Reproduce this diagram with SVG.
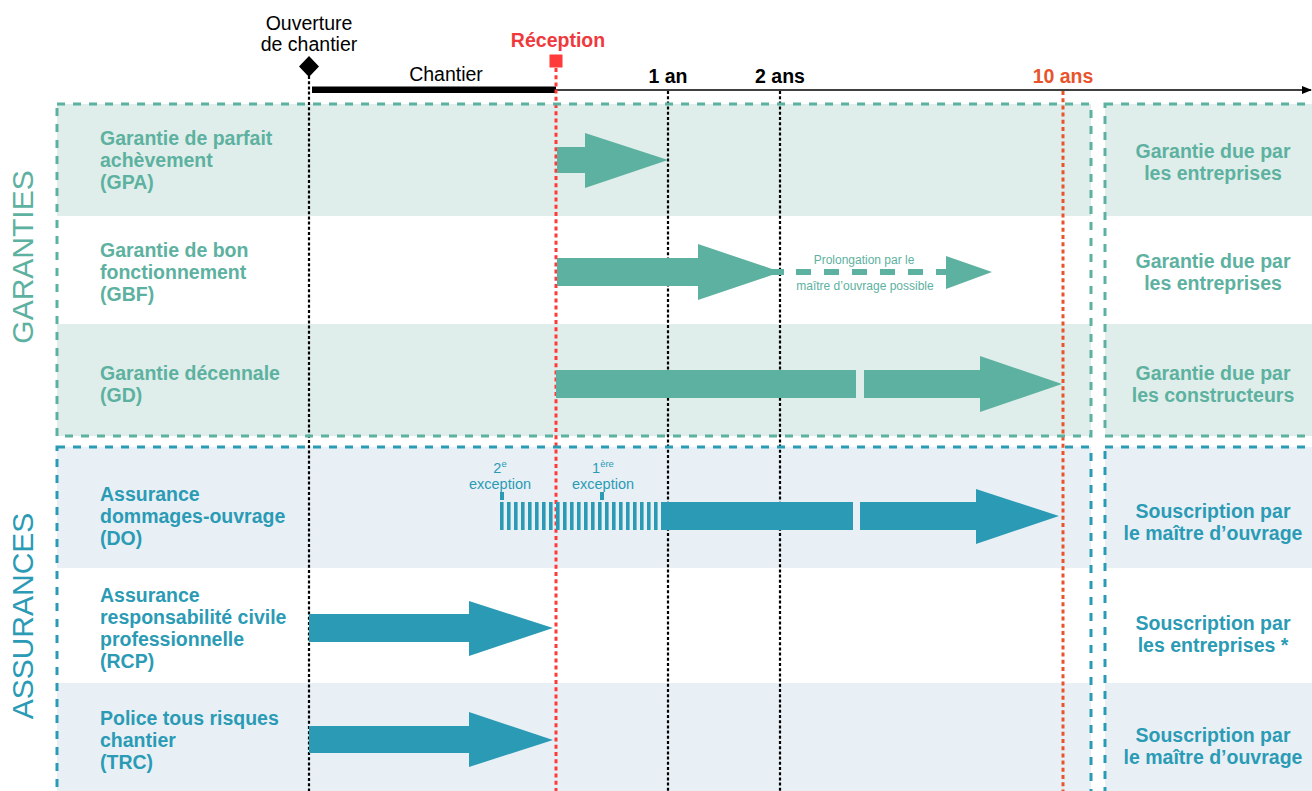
<svg xmlns="http://www.w3.org/2000/svg" width="1312" height="791" viewBox="0 0 1312 791">
<style>
text{font-family:"Liberation Sans",Arial,sans-serif}
.lbl{font-size:19.5px;font-weight:bold}
.g{fill:#5db1a0}
.a{fill:#2b9bb5}
.bgG{fill:#dfeeea}
.bgA{fill:#e8f0f6}
.boxG{fill:none;stroke:#5db1a0;stroke-width:3;stroke-dasharray:8 8}
.boxA{fill:none;stroke:#2b9bb5;stroke-width:3;stroke-dasharray:8 8}
.vk{stroke:#000;stroke-width:2.2;stroke-dasharray:3 2.2;fill:none}
.vr{stroke:#ff3a3a;stroke-width:3;stroke-dasharray:4 3.2;fill:none}
.vo{stroke:#e8542c;stroke-width:3;stroke-dasharray:4 3.2;fill:none}
.mid{text-anchor:middle}
.side{font-size:30px}
</style>
<defs>
<marker id="axh" markerWidth="10" markerHeight="8" refX="9" refY="4" orient="auto" markerUnits="userSpaceOnUse">
<path d="M0,0 L10,4 L0,8 z" fill="#000"/>
</marker>
<pattern id="stripes" x="500" y="0" width="7" height="10" patternUnits="userSpaceOnUse">
<rect x="0" y="0" width="3.6" height="10" fill="#2b9bb5"/>
</pattern>
</defs>

<!-- backgrounds -->
<g id="backgrounds">
<rect class="bgG" x="57" y="104" width="1034" height="112"/>
<rect class="bgG" x="57" y="324" width="1034" height="112"/>
<rect class="bgA" x="57" y="447" width="1034" height="121"/>
<rect class="bgA" x="57" y="683" width="1034" height="110"/>
<rect class="bgG" x="1105" y="104" width="210" height="112"/>
<rect class="bgG" x="1105" y="324" width="210" height="112"/>
<rect class="bgA" x="1105" y="447" width="210" height="121"/>
<rect class="bgA" x="1105" y="683" width="210" height="110"/>
</g>

<!-- timeline -->
<g id="timeline">
<line x1="555" y1="90" x2="1311" y2="90" stroke="#000" stroke-width="1.5" marker-end="url(#axh)"/>
<rect x="312" y="86.5" width="244" height="6.5" fill="#000"/>
<line class="vk" x1="309" y1="76" x2="309" y2="791"/>
<line class="vr" x1="556" y1="68" x2="556" y2="791"/>
<line class="vk" x1="668" y1="91" x2="668" y2="791"/>
<line class="vk" x1="780" y1="91" x2="780" y2="791"/>
<line class="vo" x1="1063" y1="91" x2="1063" y2="791"/>
<path d="M309,56 L319,66.5 L309,77 L299,66.5 z" fill="#000"/>
<rect x="549.5" y="54.5" width="13" height="13" fill="#ff3a3a"/>
<text class="mid" x="309" y="30" font-size="19.5">Ouverture</text>
<text class="mid" x="309" y="51" font-size="19.5">de chantier</text>
<text class="mid" x="446" y="81" font-size="19.5">Chantier</text>
<text class="mid lbl" x="558" y="47" fill="#f0393c">Réception</text>
<text class="mid lbl" x="668" y="83" fill="#000">1 an</text>
<text class="mid lbl" x="780" y="83" fill="#000">2 ans</text>
<text class="mid lbl" x="1063" y="83" fill="#e8542c">10 ans</text>
</g>

<!-- section boxes -->
<g id="garanties">
<rect class="boxG" x="57" y="104" width="1034" height="332"/>
<rect class="boxG" x="1105" y="104" width="230" height="332"/>
<text class="side mid g" transform="translate(33,257) rotate(-90)">GARANTIES</text>
</g>
<g id="assurances">
<rect class="boxA" x="57" y="447" width="1034" height="360"/>
<rect class="boxA" x="1105" y="447" width="230" height="360"/>
<text class="side mid a" transform="translate(33,616) rotate(-90)">ASSURANCES</text>
</g>

<!-- rows -->
<g id="gpa">
<text class="lbl g" x="100" y="145">Garantie de parfait</text>
<text class="lbl g" x="100" y="167">achèvement</text>
<text class="lbl g" x="100" y="189">(GPA)</text>
<text class="lbl g mid" x="1213" y="158">Garantie due par</text>
<text class="lbl g mid" x="1213" y="180">les entreprises</text>
</g>
<g id="gbf">
<text class="lbl g" x="100" y="257">Garantie de bon</text>
<text class="lbl g" x="100" y="279">fonctionnement</text>
<text class="lbl g" x="100" y="301">(GBF)</text>
<text class="lbl g mid" x="1213" y="268">Garantie due par</text>
<text class="lbl g mid" x="1213" y="290">les entreprises</text>
</g>
<g id="gd">
<text class="lbl g" x="100" y="380">Garantie décennale</text>
<text class="lbl g" x="100" y="402">(GD)</text>
<text class="lbl g mid" x="1213" y="380">Garantie due par</text>
<text class="lbl g mid" x="1213" y="402">les constructeurs</text>
</g>
<g id="do">
<text class="lbl a" x="100" y="501">Assurance</text>
<text class="lbl a" x="100" y="523">dommages-ouvrage</text>
<text class="lbl a" x="100" y="545">(DO)</text>
<text class="lbl a mid" x="1213" y="518">Souscription par</text>
<text class="lbl a mid" x="1213" y="540">le maître d’ouvrage</text>
</g>
<g id="rcp">
<text class="lbl a" x="100" y="602">Assurance</text>
<text class="lbl a" x="100" y="624">responsabilité civile</text>
<text class="lbl a" x="100" y="646">professionnelle</text>
<text class="lbl a" x="100" y="668">(RCP)</text>
<text class="lbl a mid" x="1213" y="630">Souscription par</text>
<text class="lbl a mid" x="1213" y="652">les entreprises *</text>
</g>
<g id="trc">
<text class="lbl a" x="100" y="725">Police tous risques</text>
<text class="lbl a" x="100" y="747">chantier</text>
<text class="lbl a" x="100" y="769">(TRC)</text>
<text class="lbl a mid" x="1213" y="742">Souscription par</text>
<text class="lbl a mid" x="1213" y="764">le maître d’ouvrage</text>
</g>

<!-- connectors (arrows) -->
<g id="connectors">
<path class="g" d="M557,147 L585,147 L585,133 L668,160 L585,188 L585,173 L557,173 z"/>
<path class="g" d="M557,258 L698,258 L698,244 L772,269 L784,269 L784,275 L772,275 L698,300 L698,286 L557,286 z"/>
<line x1="796" y1="272" x2="946" y2="272" stroke="#5db1a0" stroke-width="6" stroke-dasharray="15 13"/>
<path class="g" d="M946,256 L992,272 L946,289 z"/>
<text class="mid g" x="864" y="264" font-size="12">Prolongation par le</text>
<text class="mid g" x="865" y="290" font-size="12">maître d’ouvrage possible</text>
<rect class="g" x="556" y="370" width="300" height="28"/>
<path class="g" d="M864,370 L980,370 L980,356 L1062,384 L980,412 L980,398 L864,398 z"/>
<rect x="500" y="502" width="164" height="28" fill="url(#stripes)"/>
<rect class="a" x="664" y="502" width="189" height="28"/>
<path class="a" d="M860,502 L976,502 L976,489 L1059,516 L976,544 L976,530 L860,530 z"/>
<rect class="a" x="500" y="492" width="4" height="8"/>
<rect class="a" x="600" y="492" width="4" height="8"/>
<text class="mid a" x="500" y="473" font-size="14.5">2<tspan font-size="9.5" dy="-6">e</tspan></text>
<text class="mid a" x="500" y="489" font-size="14.5">exception</text>
<text class="mid a" x="603" y="473" font-size="14.5">1<tspan font-size="9.5" dy="-6">ère</tspan></text>
<text class="mid a" x="603" y="489" font-size="14.5">exception</text>
<path class="a" d="M309,614 L469,614 L469,601 L553,628 L469,656 L469,642 L309,642 z"/>
<path class="a" d="M309,726 L469,726 L469,712 L553,740 L469,767 L469,753 L309,753 z"/>
</g>
</svg>
